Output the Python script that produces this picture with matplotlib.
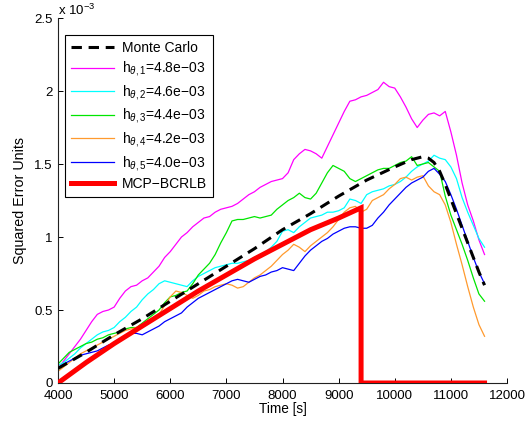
import matplotlib
matplotlib.use('Agg')
import matplotlib.pyplot as plt
import numpy as np
from matplotlib.ticker import FuncFormatter

plt.rcParams['font.family'] = ['Liberation Sans', 'DejaVu Sans']
plt.rcParams['mathtext.fontset'] = 'custom'
plt.rcParams['mathtext.rm'] = 'Liberation Sans'
plt.rcParams['mathtext.it'] = 'Liberation Sans:italic'

# time grid [s] (values read every 100 s)
time = np.arange(4000, 11601, 100)

# squared error in units of 1e-3
h1 = [0.10, 0.15, 0.20, 0.25, 0.30, 0.36, 0.42, 0.47, 0.49, 0.50,
      0.52, 0.58, 0.63, 0.66, 0.67, 0.70, 0.72, 0.76, 0.80, 0.86,
      0.90, 0.95, 1.00, 1.03, 1.07, 1.10, 1.13, 1.14, 1.17, 1.19,
      1.20, 1.21, 1.23, 1.26, 1.29, 1.31, 1.34, 1.36, 1.38, 1.39,
      1.40, 1.44, 1.53, 1.57, 1.60, 1.59, 1.57, 1.54, 1.62, 1.70,
      1.78, 1.86, 1.93, 1.94, 1.96, 1.97, 1.99, 2.01, 2.06, 2.03,
      2.02, 1.96, 1.89, 1.81, 1.75, 1.80, 1.84, 1.85, 1.83, 1.86,
      1.72, 1.56, 1.37, 1.22, 1.11, 0.98, 0.88]
h2 = [0.12, 0.14, 0.17, 0.20, 0.24, 0.27, 0.30, 0.33, 0.35, 0.36,
      0.38, 0.42, 0.45, 0.49, 0.52, 0.57, 0.61, 0.64, 0.68, 0.70,
      0.69, 0.68, 0.67, 0.66, 0.70, 0.73, 0.75, 0.77, 0.79, 0.80,
      0.81, 0.82, 0.82, 0.83, 0.84, 0.86, 0.88, 0.90, 0.93, 0.97,
      1.04, 1.05, 1.03, 1.07, 1.10, 1.13, 1.14, 1.15, 1.17, 1.17,
      1.18, 1.20, 1.26, 1.25, 1.23, 1.29, 1.31, 1.32, 1.33, 1.35,
      1.36, 1.38, 1.41, 1.45, 1.48, 1.50, 1.52, 1.56, 1.54, 1.53,
      1.48, 1.40, 1.27, 1.17, 1.08, 0.99, 0.93]
h3 = [0.13, 0.17, 0.21, 0.23, 0.25, 0.27, 0.28, 0.30, 0.31, 0.33,
      0.34, 0.35, 0.37, 0.38, 0.38, 0.41, 0.44, 0.47, 0.50, 0.55,
      0.59, 0.60, 0.62, 0.63, 0.68, 0.74, 0.78, 0.82, 0.88, 0.96,
      1.03, 1.11, 1.12, 1.12, 1.13, 1.14, 1.13, 1.14, 1.15, 1.19,
      1.22, 1.25, 1.27, 1.30, 1.27, 1.26, 1.30, 1.37, 1.44, 1.49,
      1.47, 1.45, 1.40, 1.38, 1.40, 1.42, 1.44, 1.46, 1.47, 1.47,
      1.49, 1.51, 1.52, 1.55, 1.49, 1.50, 1.51, 1.48, 1.45, 1.28,
      1.15, 1.05, 0.95, 0.84, 0.72, 0.61, 0.56]
h4 = [0.08, 0.11, 0.14, 0.17, 0.20, 0.22, 0.24, 0.26, 0.28, 0.30,
      0.32, 0.34, 0.36, 0.37, 0.38, 0.40, 0.42, 0.44, 0.47, 0.53,
      0.59, 0.63, 0.62, 0.60, 0.58, 0.60, 0.63, 0.64, 0.66, 0.67,
      0.68, 0.67, 0.65, 0.66, 0.69, 0.72, 0.74, 0.77, 0.80, 0.84,
      0.88, 0.91, 0.95, 0.93, 0.90, 0.94, 0.97, 1.00, 1.03, 1.07,
      1.12, 1.17, 1.20, 1.21, 1.17, 1.19, 1.25, 1.27, 1.29, 1.33,
      1.36, 1.40, 1.41, 1.39, 1.41, 1.42, 1.35, 1.31, 1.29, 1.22,
      1.10, 0.95, 0.81, 0.66, 0.52, 0.40, 0.32]
h5 = [0.10, 0.13, 0.15, 0.17, 0.19, 0.20, 0.21, 0.22, 0.24, 0.26,
      0.27, 0.30, 0.32, 0.34, 0.34, 0.33, 0.35, 0.37, 0.39, 0.42,
      0.44, 0.46, 0.48, 0.52, 0.55, 0.58, 0.60, 0.62, 0.64, 0.66,
      0.68, 0.70, 0.71, 0.70, 0.69, 0.71, 0.73, 0.74, 0.76, 0.77,
      0.79, 0.78, 0.77, 0.82, 0.87, 0.91, 0.94, 0.97, 0.99, 1.02,
      1.04, 1.06, 1.07, 1.07, 1.06, 1.06, 1.08, 1.13, 1.17, 1.22,
      1.26, 1.30, 1.34, 1.37, 1.39, 1.41, 1.45, 1.47, 1.43, 1.38,
      1.29, 1.19, 1.08, 0.97, 0.86, 0.76, 0.68]

mc_time = [4000, 4500, 5000, 5500, 6000, 6500, 7000, 7500, 8000, 8500,
           9000, 9500, 10000, 10300, 10500, 10600, 10700, 10800, 10900,
           11000, 11100, 11200, 11300, 11400, 11500, 11600]
mc_vals = [0.10, 0.21, 0.33, 0.44, 0.56, 0.68, 0.80, 0.92, 1.05, 1.16,
           1.28, 1.39, 1.48, 1.53, 1.55, 1.54, 1.51, 1.45, 1.36,
           1.26, 1.16, 1.06, 0.96, 0.86, 0.76, 0.67]

bound_time = [4000, 4500, 5000, 5500, 6000, 6500, 7000, 7500, 8000, 8500,
              9000, 9400, 9400, 11600]
bound_vals = [0.0, 0.14, 0.27, 0.39, 0.51, 0.63, 0.74, 0.85, 0.95, 1.05,
              1.13, 1.20, 0.0, 0.0]

labels = ['Monte Carlo',
          'h$_{\\theta ,1}$=4.8e\u221203',
          'h$_{\\theta ,2}$=4.6e\u221203',
          'h$_{\\theta ,3}$=4.4e\u221203',
          'h$_{\\theta ,4}$=4.2e\u221203',
          'h$_{\\theta ,5}$=4.0e\u221203',
          'MCP\u2212BCRLB']
colors = ['#ff00ff', '#00ffff', '#00e600', '#ff9a2e', '#0000ff']

fig = plt.figure(figsize=(5.25, 4.24), dpi=100)
ax = fig.add_axes([0.1105, 0.0967, 0.8552, 0.8608])

scale = 1e-3
hmc, = ax.plot(mc_time, np.array(mc_vals) * scale, color='black', lw=2.2,
               linestyle=(0, (3.4, 2.2)), zorder=5)
series = [h1, h2, h3, h4, h5]
hs = []
for s, c in zip(series, colors):
    l, = ax.plot(time, np.array(s) * scale, color=c, lw=0.9)
    hs.append(l)
hb, = ax.plot(bound_time, np.array(bound_vals) * scale, color='#ff0000', lw=3.6,
              zorder=4, solid_joinstyle='miter')

ax.set_xlim(4000, 12000)
ax.set_ylim(0, 2.5e-3)
ax.set_xticks(np.arange(4000, 12001, 1000))
ax.set_yticks(np.arange(0, 2.51e-3, 0.5e-3))
ax.yaxis.set_major_formatter(FuncFormatter(lambda v, p: '%g' % round(v * 1e3, 3)))
for sp in ['top', 'right']:
    ax.spines[sp].set_visible(False)
for sp in ['left', 'bottom']:
    ax.spines[sp].set_linewidth(0.8)
    ax.spines[sp].set_color('#222222')
ax.tick_params(direction='in', length=3.5, width=0.7, labelsize=9.5)
ax.tick_params(axis='x', pad=5)
ax.tick_params(axis='y', pad=4)
ax.text(0.0, 1.0, 'x 10$^{\u22123}$', transform=ax.transAxes, ha='left', va='bottom',
        fontsize=9.5)

ax.set_xlabel('Time [s]', fontsize=9.8, labelpad=0)
ax.set_ylabel('Squared Error Units', fontsize=10.3, labelpad=5)

leg = ax.legend([hmc] + hs + [hb], labels, loc='upper left',
                bbox_to_anchor=(0.0165, 0.953), borderaxespad=0,
                fontsize=10, handlelength=3.1, labelspacing=0.33,
                fancybox=False, framealpha=1, edgecolor='black',
                borderpad=0.4, handletextpad=0.6)
leg.get_frame().set_linewidth(0.8)

fig.savefig('out.png', dpi=100)
